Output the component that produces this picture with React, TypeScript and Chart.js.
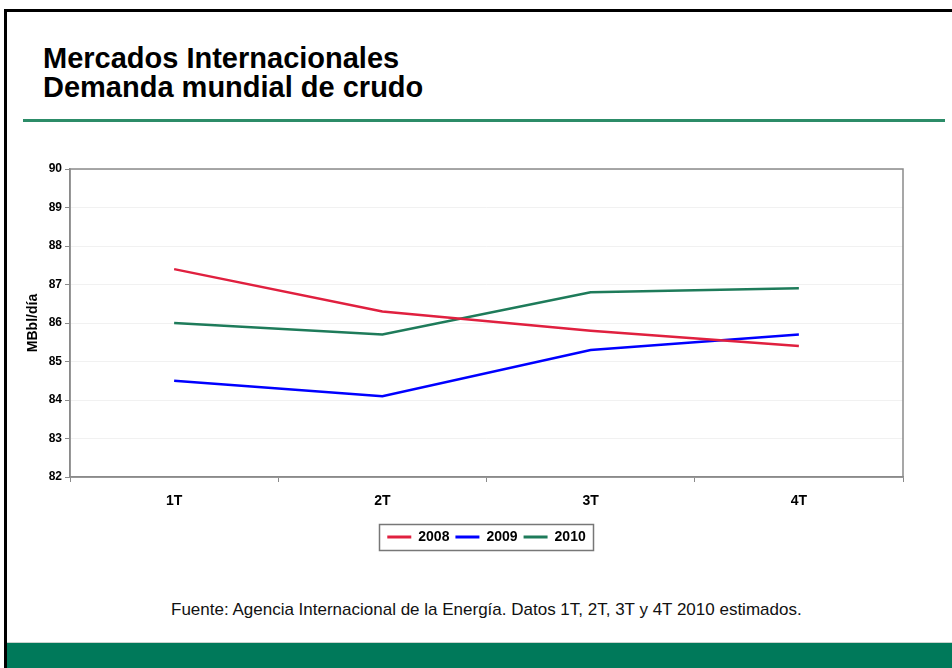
import React, { useEffect, useRef } from "react";
import { Chart, registerables } from "chart.js";

Chart.register(...registerables);

const categories = ["1T", "2T", "3T", "4T"];
const series2008 = [87.4, 86.3, 85.8, 85.4];
const series2009 = [84.5, 84.1, 85.3, 85.7];
const series2010 = [86.0, 85.7, 86.8, 86.9];
const seriesLabels = ["2008", "2009", "2010"];
const yTicks = [82, 83, 84, 85, 86, 87, 88, 89, 90];

const FONT = '"Liberation Sans", Arial, Helvetica, sans-serif';

const plotBorder = {
  id: "plotBorder",
  afterLayout(chart: any) {
    const lg = chart.legend;
    const ca = chart.chartArea;
    if (lg && ca) {
      lg.left = ca.left;
      lg.right = ca.right;
      lg.width = ca.right - ca.left;
    }
  },
  beforeDatasetsDraw(chart: any) {
    const { ctx, chartArea } = chart;
    ctx.save();
    ctx.strokeStyle = "#8a8a8a";
    ctx.lineWidth = 1.5;
    ctx.strokeRect(chartArea.left, chartArea.top, chartArea.right - chartArea.left, chartArea.bottom - chartArea.top);
    ctx.restore();
  },
};

const legendBox = {
  id: "legendBox",
  afterDraw(chart: any) {
    const lg = chart.legend;
    if (!lg || !lg.legendHitBoxes || !lg.legendHitBoxes.length) return;
    const hb = lg.legendHitBoxes;
    let l = Infinity, r = -Infinity, t = Infinity, b = -Infinity;
    hb.forEach((h: any) => {
      l = Math.min(l, h.left);
      r = Math.max(r, h.left + h.width);
      t = Math.min(t, h.top);
      b = Math.max(b, h.top + h.height);
    });
    const ctx = chart.ctx;
    ctx.save();
    ctx.strokeStyle = "#777";
    ctx.lineWidth = 1.5;
    ctx.strokeRect(Math.round(l - 8) + 0.5, Math.round(t - 6) + 0.5, Math.round(r - l + 16), Math.round(b - t + 12));
    ctx.restore();
  },
};

export default function App() {
  const ref = useRef<HTMLCanvasElement | null>(null);

  useEffect(() => {
    if (!ref.current) return;
    const colors = ["#E0203F", "#0000FF", "#1E7B5A"];
    const data = [series2008, series2009, series2010];
    const chart = new Chart(ref.current, {
      type: "line",
      data: {
        labels: categories,
        datasets: data.map((d, i) => ({
          label: seriesLabels[i],
          data: d,
          borderColor: colors[i],
          backgroundColor: colors[i],
          borderWidth: 2.5,
          pointRadius: 0,
          fill: false,
          tension: 0,
        })),
      },
      options: {
        animation: false,
        responsive: true,
        maintainAspectRatio: false,
        layout: { padding: { left: 0, right: 49, top: 19, bottom: 11 } },
        plugins: {
          title: { display: false },
          tooltip: { enabled: false },
          legend: {
            display: true,
            position: "bottom",
            labels: {
              boxWidth: 24,
              boxHeight: 3,
              padding: 6,
              color: "#000",
              font: { family: FONT, size: 14, weight: "bold" },
              generateLabels: (c: any) =>
                (Chart.defaults.plugins.legend.labels.generateLabels as any)(c).map((it: any) => ({ ...it, lineWidth: 0 })),
            },
          },
        },
        scales: {
          x: {
            type: "category",
            offset: true,
            afterFit: (s: any) => { s.height = 47; },
            grid: {
              offset: true,
              drawOnChartArea: false,
              drawTicks: true,
              tickLength: 5,
              tickColor: "#8a8a8a",
              color: "#8a8a8a",
            },
            border: { color: "#8a8a8a", width: 1.5 },
            ticks: {
              color: "#000",
              padding: 11,
              font: { family: FONT, size: 14, weight: "bold" },
            },
          },
          y: {
            min: 82,
            max: 90,
            afterFit: (s: any) => { s.width = 70; },
            afterBuildTicks: (s: any) => { s.ticks = yTicks.map((v) => ({ value: v })); },
            grid: {
              drawOnChartArea: true,
              drawTicks: true,
              tickLength: 5,
              color: "#f1f1f1",
              tickColor: "#8a8a8a",
            },
            border: { color: "#8a8a8a", width: 1.5 },
            ticks: {
              color: "#000",
              padding: 3,
              font: { family: FONT, size: 12, weight: "bold" },
            },
            title: {
              display: true,
              text: "MBbl/día",
              color: "#000",
              padding: { top: 25, bottom: 0 },
              font: { family: FONT, size: 14, weight: "bold" },
            },
          },
        },
      },
      plugins: [plotBorder, legendBox],
    });
    return () => chart.destroy();
  }, []);

  return (
    <div style={{ position: "fixed", left: 0, top: 0, width: 952, height: 668, background: "#fff", overflow: "hidden", fontFamily: FONT }}>
      <div style={{ position: "absolute", left: 4, top: 9, width: 948, height: 3, background: "#000" }} />
      <div style={{ position: "absolute", left: 4, top: 9, width: 3, height: 659, background: "#000" }} />
      <div style={{ position: "absolute", left: 43, top: 44, fontSize: 29, lineHeight: "29px", fontWeight: "bold", color: "#000", whiteSpace: "nowrap" }}>
        <div>Mercados Internacionales</div>
        <div>Demanda mundial de crudo</div>
      </div>
      <div style={{ position: "absolute", left: 23, top: 119, width: 922, height: 3, background: "#2C8C68" }} />
      <div style={{ position: "absolute", left: 0, top: 150, width: 952, height: 415 }}>
        <canvas ref={ref} />
      </div>
      <div style={{ position: "absolute", left: 171, top: 600, fontSize: 17, lineHeight: "20px", color: "#111", whiteSpace: "nowrap" }}>
        Fuente: Agencia Internacional de la Energía. Datos 1T, 2T, 3T y 4T 2010 estimados.
      </div>
      <div style={{ position: "absolute", left: 7, top: 642, width: 945, height: 1, background: "#c9d3ce" }} />
      <div style={{ position: "absolute", left: 7, top: 643, width: 945, height: 25, background: "#00795A" }} />
    </div>
  );
}
